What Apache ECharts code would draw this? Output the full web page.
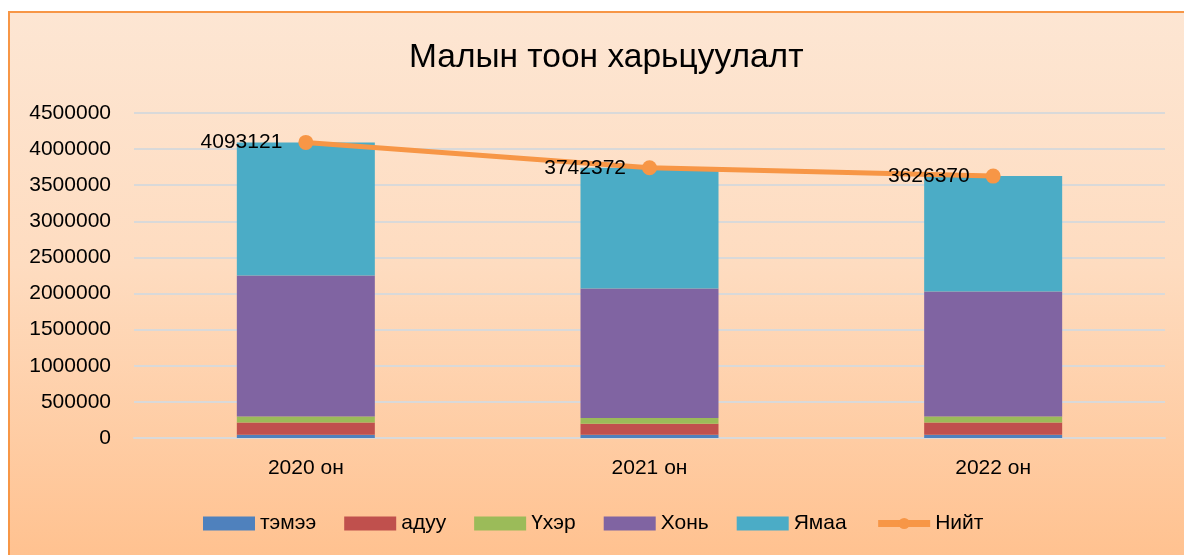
<!DOCTYPE html>
<html>
<head>
<meta charset="utf-8">
<script src="https://cdn.jsdelivr.net/npm/echarts@6/dist/echarts.min.js"></script>
<style>
  html, body { margin: 0; padding: 0; background: #fff; overflow: hidden; }
  .frame {
    position: absolute; left: 8px; top: 11px; width: 1200px; height: 560px;
    border-left: 2px solid #f79646; border-top: 2px solid #f79646;
    background: linear-gradient(to bottom, #fde6d3 0%, #fedcc0 45%, #ffc08d 100%);
  }
  #chart { position: absolute; left: 0; top: 0; width: 1184px; height: 555px; }
</style>
</head>
<body>
<div class="frame"></div>
<div id="chart"></div>
<script>
// ангилал
const categories = ['2020 он', '2021 он', '2022 он'];
// мал тус бүр
const temee = [46000, 45000, 46000];
const aduu = [167000, 153000, 167000];
const ukher = [83000, 79000, 83000];
const khoni = [1954000, 1792000, 1732000];
const yamaa = [1843121, 1673372, 1598370];
// нийт
const niit = [4093121, 3742372, 3626370];

const barColors = ['#4f81bd', '#c0504d', '#9bbb59', '#8064a2', '#4bacc6'];
const barNames = ['тэмээ', 'адуу', 'Үхэр', 'Хонь', 'Ямаа'];
const barData = [temee, aduu, ukher, khoni, yamaa];

const chart = echarts.init(document.getElementById('chart'));
const font = 'Liberation Sans';

const barSeries = barData.map((d, i) => {
  return {
    name: barNames[i],
    type: 'bar',
    stack: 'mal',
    data: d,
    barWidth: 138,
    itemStyle: { color: barColors[i] }
  }
})

const legendData = barNames.map(n => ({ name: n, icon: 'rect' }))
legendData.push({ name: 'Нийт', lineStyle: { width: 7 } })

chart.setOption({
  backgroundColor: 'transparent',
  animation: false,
  title: {
    text: 'Малын тоон харьцуулалт',
    left: 404,
    top: 36,
    textStyle: { fontFamily: font, fontSize: 33.5, fontWeight: 'normal', color: '#000' }
  },
  grid: { left: 134, right: 19, top: 113, bottom: 117 },
  legend: {
    bottom: 16,
    left: 198,
    itemWidth: 52,
    itemHeight: 14,
    itemGap: 28,
    textStyle: { fontFamily: font, fontSize: 21, color: '#000' },
    data: legendData
  },
  xAxis: {
    type: 'category',
    data: categories,
    axisLine: { lineStyle: { color: '#d9d9d9', width: 2 } },
    axisTick: { show: false },
    axisLabel: { fontFamily: font, fontSize: 21, color: '#000', margin: 20 }
  },
  yAxis: {
    type: 'value',
    min: 0,
    max: 4500000,
    interval: 500000,
    axisLine: { show: false },
    axisTick: { show: false },
    splitLine: { lineStyle: { color: '#d9d9d9', width: 2 } },
    axisLabel: {
      fontFamily: font, fontSize: 21, color: '#000', margin: 23,
      formatter: v => String(v)
    }
  },
  series: barSeries.concat([{
    name: 'Нийт',
    type: 'line',
    data: niit,
    symbol: 'circle',
    symbolSize: 15,
    itemStyle: { color: '#f79646' },
    lineStyle: { color: '#f79646', width: 5 },
    label: {
      show: true,
      position: 'left',
      distance: 16,
      fontFamily: font,
      fontSize: 21,
      color: '#000'
    }
  }])
});
</script>
</body>
</html>
